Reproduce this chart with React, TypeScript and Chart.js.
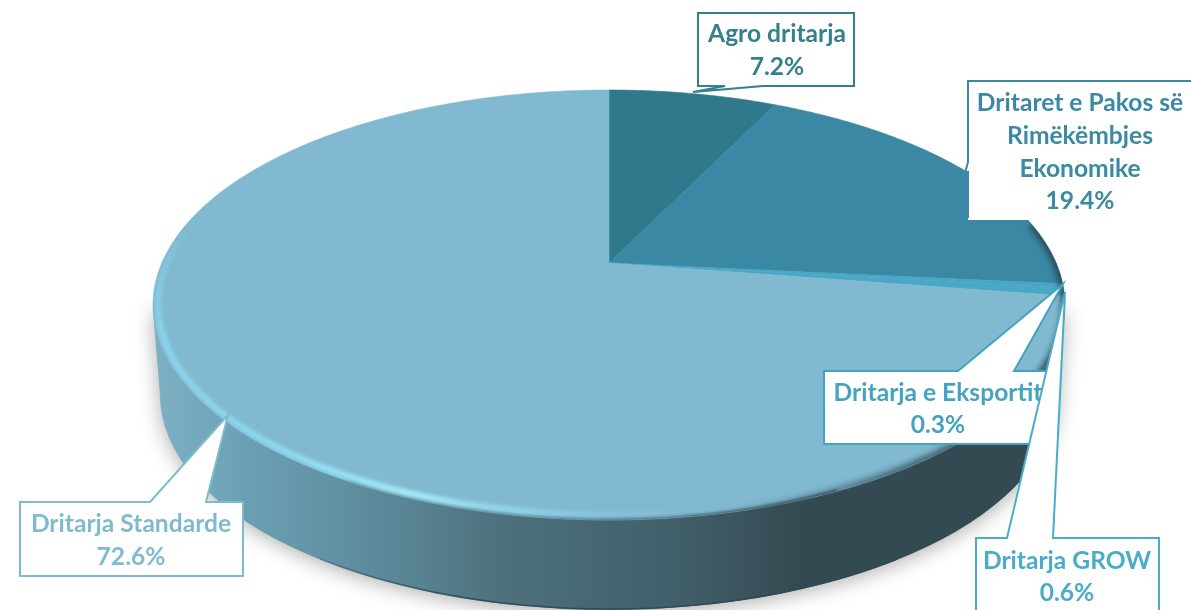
import React, { useEffect, useRef } from "react";
import { Chart, registerables } from "chart.js";

Chart.register(...registerables);

const categories = ["Agro dritarja", "Dritaret e Pakos së Rimëkëmbjes Ekonomike", "Dritarja e Eksportit", "Dritarja GROW", "Dritarja Standarde"];
const values = [7.2, 19.4, 0.3, 0.6, 72.6];
const percentLabels = ["7.2%", "19.4%", "0.3%", "0.6%", "72.6%"];
const sliceColors = ["#30788c", "#3a88a3", "#47a6c3", "#4aa8c6", "#80b9d0"];
const labelColors = ["#33808f", "#3b89a3", "#46a3bd", "#4aacc8", "#7fbad0"];
const labelLines = [["Agro dritarja"], ["Dritaret e Pakos së", "Rimëkëmbjes", "Ekonomike"], ["Dritarja e Eksportit"], ["Dritarja GROW"], ["Dritarja Standarde"]];

const W = 1191;
const H = 610;
const FONT = 'bold 24.6px Lato, "Open Sans", sans-serif';

// Projection of the pie disc: a unit circle seen in perspective
const CX = 609;
const AY = 263; // apex
const TOP = 90;
const BOT = 520;
const RX = 456;
const above = AY - TOP;
const below = BOT - AY;
const K = (above - below) / (above + below);
const B = below * (1 + K);
const A = RX * Math.sqrt(1 - K * K);
const EY = (TOP + BOT) / 2;
const RY = (BOT - TOP) / 2;
const project = (ang: number) => {
  const x = Math.cos(ang);
  const y = Math.sin(ang);
  const d = 1 + K * y;
  return [CX + (A * x) / d, AY + (B * y) / d];
};
const rad = (d: number) => (d * Math.PI) / 180;

const sideBottom = { cy: EY + 90, rx: 449, ry: 215 };

function sideGradient(ctx: CanvasRenderingContext2D) {
  const g = ctx.createLinearGradient(155, 0, 1060, 0);
  const stops: [number, string][] = [
    [0, "#7db0c3"], [0.1, "#6ba0b4"], [0.27, "#5a8696"], [0.38, "#4e717e"],
    [0.49, "#466772"], [0.6, "#3f5c66"], [0.71, "#344a52"], [1, "#344a52"],
  ];
  stops.forEach(([o, c]) => g.addColorStop(o, c));
  return g;
}

const piePlugin = {
  id: "perspectivePie",
  beforeDatasetDraw(chart: any, args: any) {
    const ctx: CanvasRenderingContext2D = chart.ctx;
    const meta = args.meta;
    // side wall
    ctx.save();
    ctx.shadowColor = "rgba(0,0,0,0.32)";
    ctx.shadowBlur = 20;
    ctx.shadowOffsetY = 3;
    ctx.fillStyle = sideGradient(ctx);
    ctx.beginPath();
    ctx.moveTo(CX - RX, EY + 5);
    ctx.lineTo(CX - sideBottom.rx, sideBottom.cy);
    ctx.ellipse(CX, sideBottom.cy, sideBottom.rx, sideBottom.ry, 0, Math.PI, 0, true);
    ctx.lineTo(CX + RX, EY + 5);
    ctx.closePath();
    ctx.fill();
    ctx.restore();

    // darker lower lip of the wall
    const lip = ctx.createLinearGradient(250, 0, 800, 0);
    lip.addColorStop(0, "rgba(47,74,84,0)");
    lip.addColorStop(0.4, "rgba(47,74,84,0.9)");
    lip.addColorStop(1, "rgba(47,74,84,1)");
    ctx.save();
    ctx.strokeStyle = lip;
    ctx.lineWidth = 1.5;
    ctx.beginPath();
    ctx.ellipse(CX, sideBottom.cy - 1, sideBottom.rx, sideBottom.ry, 0, rad(130), rad(50), true);
    ctx.stroke();
    ctx.restore();

    // top face, from the angles the library computed
    meta.data.forEach((arc: any, i: number) => {
      const { startAngle, endAngle } = arc;
      ctx.beginPath();
      ctx.moveTo(CX, AY);
      const n = Math.max(2, Math.ceil((endAngle - startAngle) / 0.01));
      for (let s = 0; s <= n; s++) {
        const [x, y] = project(startAngle + ((endAngle - startAngle) * s) / n);
        ctx.lineTo(x, y);
      }
      ctx.closePath();
      ctx.fillStyle = sliceColors[i];
      ctx.strokeStyle = sliceColors[i];
      ctx.lineWidth = 0.6;
      ctx.fill();
      ctx.stroke();
    });

    // bevel
    ctx.save();
    ctx.beginPath();
    ctx.ellipse(CX, EY, RX, RY, 0, 0, Math.PI * 2);
    ctx.clip();

    // wall colour bleeding into the lower rim
    ctx.filter = "blur(1.5px)";
    ctx.strokeStyle = sideGradient(ctx);
    ctx.lineWidth = 3;
    ctx.beginPath();
    ctx.ellipse(CX, EY, RX, RY, 0, rad(125), rad(60), true);
    ctx.stroke();

    const hl = ctx.createLinearGradient(155, 0, 760, 0);
    hl.addColorStop(0, "rgba(140,216,240,0.95)");
    hl.addColorStop(0.2, "rgba(142,222,244,0.95)");
    hl.addColorStop(0.42, "rgba(170,242,255,1)");
    hl.addColorStop(0.62, "rgba(150,222,240,0.7)");
    hl.addColorStop(0.85, "rgba(140,205,225,0.2)");
    hl.addColorStop(1, "rgba(128,185,208,0)");
    ctx.filter = "blur(2px)";
    ctx.strokeStyle = hl;

    // fading upper-left tail of the highlight
    for (let a = 206; a > 170; a -= 3) {
      ctx.globalAlpha = Math.min(1, (206 - a) / 30);
      ctx.lineWidth = 6;
      ctx.beginPath();
      ctx.ellipse(CX, EY, RX - 5, RY - 5, 0, rad(a), rad(a - 3.2), true);
      ctx.stroke();
    }
    ctx.globalAlpha = 1;
    ctx.lineWidth = 6;
    ctx.beginPath();
    ctx.ellipse(CX, EY, RX - 5, RY - 5, 0, rad(170), rad(80), true);
    ctx.stroke();

    const dk = ctx.createLinearGradient(720, 0, 1060, 0);
    dk.addColorStop(0, "rgba(40,60,70,0)");
    dk.addColorStop(0.5, "rgba(40,60,70,0.75)");
    dk.addColorStop(1, "rgba(40,60,70,0.95)");
    ctx.filter = "blur(3px)";
    ctx.strokeStyle = dk;
    ctx.lineWidth = 7;
    ctx.beginPath();
    ctx.ellipse(CX, EY, RX, RY, 0, rad(-22), rad(85));
    ctx.stroke();
    ctx.restore();
    return false;
  },
  afterDraw(chart: any) {
    const ctx: CanvasRenderingContext2D = chart.ctx;
    const callout = (i: number, pts: number[][], cx: number, rows: number[]) => {
      ctx.save();
      ctx.beginPath();
      pts.forEach(([x, y], j) => (j ? ctx.lineTo(x, y) : ctx.moveTo(x, y)));
      ctx.closePath();
      ctx.fillStyle = "#ffffff";
      ctx.fill();
      ctx.strokeStyle = labelColors[i];
      ctx.lineWidth = 2;
      ctx.lineJoin = "miter";
      ctx.stroke();
      ctx.restore();
      ctx.fillStyle = labelColors[i];
      ctx.font = FONT;
      ctx.textAlign = "center";
      ctx.textBaseline = "middle";
      const lines = [...labelLines[i], percentLabels[i]];
      lines.forEach((t, r) => ctx.fillText(t, cx, rows[r]));
    };

    callout(0, [[698, 13], [854, 13], [854, 86], [763, 86], [693, 92], [725, 86], [698, 86]], 777, [34, 67]);
    callout(4, [[20, 502], [150, 502], [228, 415], [206, 502], [243, 502], [243, 576], [20, 576]], 131, [524, 557]);
    callout(2, [[824, 371], [958, 371], [1063, 284], [1014, 371], [1048, 371], [1048, 444], [824, 444]], 938, [393, 425]);

    // box that runs off the right edge, with no bottom rule
    ctx.save();
    ctx.fillStyle = "#ffffff";
    ctx.fillRect(968, 82, 230, 138);
    ctx.beginPath();
    ctx.moveTo(968, 218);
    ctx.lineTo(968, 172);
    ctx.lineTo(965, 173);
    ctx.lineTo(968, 162);
    ctx.lineTo(968, 81);
    ctx.lineTo(1195, 81);
    ctx.strokeStyle = labelColors[1];
    ctx.lineWidth = 2;
    ctx.stroke();
    ctx.restore();
    ctx.fillStyle = labelColors[1];
    ctx.font = FONT;
    ctx.textAlign = "center";
    ctx.textBaseline = "middle";
    [...labelLines[1], percentLabels[1]].forEach((t, r) => ctx.fillText(t, 1080, [103, 136, 169, 201][r]));

    callout(3, [[976, 538], [1007, 538], [1065, 292], [1053, 538], [1159, 538], [1159, 615], [976, 615]], 1067, [561, 593]);
  },
};

export default function App() {
  const ref = useRef<HTMLCanvasElement>(null);
  useEffect(() => {
    document.body.style.margin = "0";
    document.body.style.overflow = "hidden";
    const chart = new Chart(ref.current!, {
      type: "pie",
      data: {
        labels: categories,
        datasets: [{ data: values, backgroundColor: sliceColors, borderWidth: 0 }],
      },
      options: {
        animation: false,
        responsive: false,
        plugins: { legend: { display: false }, tooltip: { enabled: false } },
      },
      plugins: [piePlugin],
    } as any);
    return () => chart.destroy();
  }, []);
  return (
    <div style={{ width: W, height: H, background: "#fff" }}>
      <canvas ref={ref} width={W} height={H} style={{ display: "block" }} />
    </div>
  );
}
